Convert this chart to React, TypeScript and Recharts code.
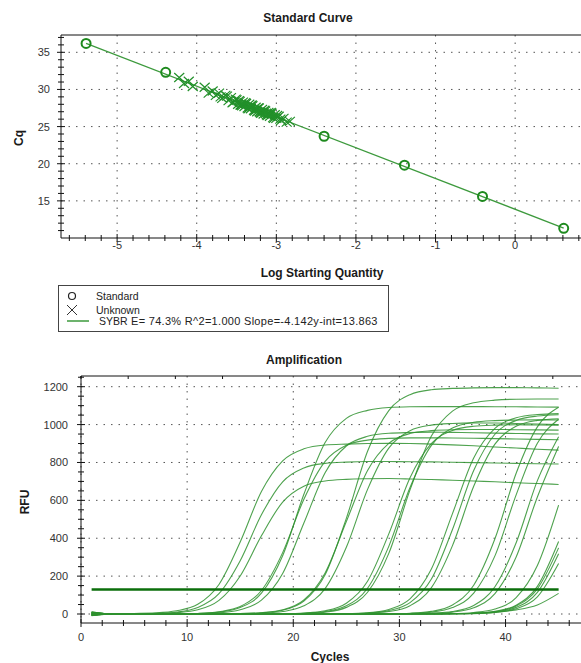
import { ScatterChart, Scatter, LineChart, Line, XAxis, YAxis, CartesianGrid, ReferenceLine, Label } from 'recharts'

const FONT = '"Liberation Sans", Arial, sans-serif'
const AXIS = '#111'
const GRID = '#555'

// ---- standard curve ----
const stdLog = [-5.39, -4.39, -2.4, -1.39, -0.41, 0.61]
const stdCq = [36.2, 32.3, 23.7, 19.8, 15.6, 11.3]
const unkLog = [-4.22, -4.16, -4.1, -4.05, -3.9, -3.85, -3.8, -3.76, -3.72, -3.68, -3.64, -3.6, -3.57, -3.54, -3.51, -3.48,
  -3.46, -3.44, -3.42, -3.4, -3.38, -3.36, -3.34, -3.32, -3.3, -3.28, -3.26, -3.24, -3.22, -3.2, -3.18, -3.16, -3.14, -3.12,
  -3.1, -3.08, -3.06, -3.04, -3.02, -3, -2.97, -2.94, -2.91, -2.87, -2.83,
  -3.62, -3.55, -3.5, -3.47, -3.43, -3.39, -3.35, -3.31, -3.27, -3.23, -3.19, -3.15, -3.11, -3.07, -3.03, -2.99,
  -3.45, -3.33, -3.21, -3.09, -2.95, -3.7, -3.25, -3.13]
const unkCq = [31.6, 30.8, 31.1, 30.4, 30.3, 29.5, 29.8, 29.2, 29.5, 28.8, 29.2, 28.5, 28.9, 28.3, 28.7, 28.0,
  28.4, 27.9, 28.3, 27.7, 28.1, 27.5, 28.0, 27.4, 27.8, 27.2, 27.6, 27.0, 27.5, 26.9, 27.3, 26.7, 27.1, 26.6,
  26.9, 26.4, 26.8, 26.2, 26.6, 26.1, 26.4, 25.8, 26.1, 25.6, 25.7,
  29.1, 28.2, 28.6, 28.5, 27.8, 28.2, 27.4, 27.9, 27.1, 27.5, 26.8, 27.2, 26.5, 26.9, 26.1, 26.5,
  27.9, 27.7, 27.0, 26.7, 26.0, 29.0, 27.3, 26.8]
const fitLog = [-5.39, 0.61]
const fitCq = [36.19, 11.34]
const logTicks = [-5, -4, -3, -2, -1, 0, 1]
const cqTicks = [15, 20, 25, 30, 35]

// ---- amplification ----
const cycles = [1, 3, 5, 7, 9, 11, 13, 15, 17, 19, 21, 23, 25, 27, 29, 31, 33, 35, 37, 39, 41, 43, 45]
const a1 = [8, 1, 3, 6, 17, 51, 156, 380, 647, 809, 872, 892, 897, 900, 901, 900, 897, 893, 888, 882, 876, 870, 865]
const a2 = [-6, 0, 1, 3, 10, 34, 107, 281, 524, 698, 771, 795, 802, 805, 805, 804, 803, 801, 799, 797, 795, 793, 792]
const a3 = [4, 0, 1, 2, 7, 22, 72, 201, 413, 591, 675, 702, 711, 714, 715, 713, 710, 706, 702, 698, 693, 689, 684]
const b1 = [10, 0, 0, 1, 1, 3, 10, 34, 110, 308, 632, 905, 1033, 1075, 1090, 1094, 1095, 1095, 1095, 1094, 1094, 1093, 1092]
const b2 = [-5, 0, 0, 1, 1, 3, 12, 39, 124, 324, 606, 806, 891, 918, 927, 930, 930, 929, 928, 926, 924, 922, 920]
const b3 = [6, 0, 0, 0, 1, 2, 6, 22, 73, 214, 480, 746, 887, 938, 954, 958, 960, 959, 957, 955, 953, 951, 950]
const c1 = [-8, 0, 0, 0, 0, 0, 1, 2, 6, 20, 68, 207, 505, 859, 1074, 1158, 1184, 1191, 1194, 1195, 1195, 1194, 1192]
const c2 = [3, 0, 0, 0, 0, 0, 1, 2, 7, 22, 74, 217, 488, 758, 901, 953, 968, 973, 974, 974, 973, 972, 971]
const c3 = [-4, 0, 0, 0, 0, 0, 0, 1, 4, 13, 43, 134, 352, 658, 876, 968, 997, 1006, 1009, 1008, 1006, 1003, 1000]
const d1 = [12, 0, 0, 0, 0, 0, 0, 0, 0, 1, 3, 10, 35, 115, 320, 655, 938, 1071, 1115, 1129, 1134, 1135, 1135]
const d2 = [-3, 0, 0, 0, 0, 0, 0, 0, 0, 1, 4, 13, 43, 136, 357, 668, 889, 982, 1012, 1021, 1024, 1025, 1024]
const d3 = [7, 0, 0, 0, 0, 0, 0, 0, 0, 1, 5, 17, 57, 173, 423, 719, 899, 969, 991, 997, 999, 998, 997]
const e1 = [-7, 0, 0, 0, 0, 0, 0, 0, 0, 0, 0, 1, 2, 7, 24, 80, 236, 530, 824, 980, 1036, 1053, 1058]
const e2 = [5, 0, 0, 0, 0, 0, 0, 0, 0, 0, 0, 0, 1, 5, 18, 60, 183, 446, 758, 949, 1022, 1045, 1052]
const e3 = [-2, 0, 0, 0, 0, 0, 0, 0, 0, 0, 0, 0, 1, 4, 13, 44, 138, 361, 674, 897, 991, 1022, 1031]
const f1 = [9, 0, 0, 0, 0, 0, 0, 0, 0, 0, 0, 0, 0, 0, 1, 4, 14, 48, 152, 397, 743, 988, 1092]
const f2 = [-5, 0, 0, 0, 0, 0, 0, 0, 0, 0, 0, 0, 0, 0, 1, 3, 10, 34, 110, 307, 629, 901, 1028]
const f3 = [4, 0, 0, 0, 0, 0, 0, 0, 0, 0, 0, 0, 0, 0, 0, 1, 4, 13, 45, 144, 376, 704, 936]
const f4 = [-9, 0, 0, 0, 0, 0, 0, 0, 0, 0, 0, 0, 0, 0, 0, 1, 3, 10, 33, 108, 301, 618, 885]
const g1 = [2, 0, 0, 0, 0, 0, 0, 0, 0, 0, 0, 0, 0, 0, 0, 0, 1, 2, 8, 26, 87, 256, 575]
const g2 = [-3, 0, 0, 0, 0, 0, 0, 0, 0, 0, 0, 0, 0, 0, 0, 0, 0, 1, 4, 14, 46, 146, 383]
const g3 = [6, 0, 0, 0, 0, 0, 0, 0, 0, 0, 0, 0, 0, 0, 0, 0, 0, 1, 4, 12, 42, 133, 349]
const g4 = [-6, 0, 0, 0, 0, 0, 0, 0, 0, 0, 0, 0, 0, 0, 0, 0, 0, 1, 3, 10, 35, 114, 318]
const g5 = [1, 0, 0, 0, 0, 0, 0, 0, 0, 0, 0, 0, 0, 0, 0, 0, 0, 1, 2, 8, 28, 91, 267]
const g6 = [-1, 0, 0, 0, 0, 0, 0, 0, 0, 0, 0, 0, 0, 0, 0, 0, 0, 2, 4, 10, 22, 48, 109]
const threshold = 130
const thresholdCycles = [1, 45]
const rfuTicks = [0, 200, 400, 600, 800, 1000, 1200]
const cycleTicks = [0, 10, 20, 30, 40]

const curves: Record<string, number[]> = { a1, a2, a3, b1, b2, b3, c1, c2, c3, d1, d2, d3, e1, e2, e3, f1, f2, f3, f4, g1, g2, g3, g4, g5, g6 }
const ampData = cycles.map((cycle, i) => {
  const row: Record<string, number> = { cycle }
  for (const k in curves) row[k] = curves[k][i]
  return row
})
const stdData = stdLog.map((x, i) => ({ x, y: stdCq[i] }))
const unkData = unkLog.map((x, i) => ({ x, y: unkCq[i] }))

const steps = (from: number, to: number, step: number) => {
  const out: number[] = []
  for (let v = from; v <= to + 1e-9; v += step) out.push(Math.round(v * 10) / 10)
  return out
}

const tickStyle = { fontFamily: FONT, fontSize: 11, fill: '#333' }
const titleStyle = { fontFamily: FONT, fontSize: 12, fontWeight: 700, fill: '#1a1a1a' }

const makeTick = (side: 'left' | 'bottom' | 'top', majors: number[], gap: number) => (p: any) => {
  const v = p.payload.value
  const major = majors.includes(v)
  const n = major ? 4 : 3
  if (side === 'top') return <line x1={p.x} x2={p.x} y1={p.y} y2={p.y + n} stroke={AXIS} />
  if (side === 'left') {
    return (
      <g>
        <line x1={p.x - n} x2={p.x + n} y1={p.y} y2={p.y} stroke={AXIS} />
        {major && <text x={p.x - gap} y={p.y} dy="0.36em" textAnchor="end" style={tickStyle}>{v}</text>}
      </g>
    )
  }
  return (
    <g>
      <line x1={p.x} x2={p.x} y1={p.y - n} y2={p.y + n} stroke={AXIS} />
      {major && <text x={p.x} y={p.y + gap} dy="0.36em" textAnchor="middle" style={tickStyle}>{v}</text>}
    </g>
  )
}

const Title = (x: number, y: number, text: string, vertical = false) => () => (
  <text x={x} y={y} textAnchor="middle" dominantBaseline="central"
    transform={vertical ? `rotate(-90 ${x} ${y})` : undefined} style={titleStyle}>{text}</text>
)

const Ring = (p: any) => <circle cx={p.cx} cy={p.cy} r={4.5} fill="none" stroke="#1e8a1e" strokeWidth={2} />
const Cross = (p: any) => (
  <path d={`M${p.cx - 5},${p.cy - 4.5}L${p.cx + 5},${p.cy + 4.5}M${p.cx - 5},${p.cy + 4.5}L${p.cx + 5},${p.cy - 4.5}`}
    stroke="#22902a" strokeWidth={1.2} fill="none" />
)

function Legend() {
  const t = { fontFamily: FONT, fontSize: 10.5, fill: '#222' }
  return (
    <div style={{ position: 'absolute', left: 58, top: 285, width: 329, height: 45, border: '1px solid #444', background: '#fff' }}>
      <svg width={329} height={45}>
        <circle cx={13} cy={10} r={3.5} fill="none" stroke="#222" strokeWidth={1.2} />
        <text x={37} y={10} dy="0.36em" style={t}>Standard</text>
        <path d="M8,19L18,29M8,29L18,19" stroke="#333" strokeWidth={1} />
        <text x={37} y={24} dy="0.36em" style={t}>Unknown</text>
        <line x1={8} x2={30} y1={35} y2={35} stroke="#3c9a3c" strokeWidth={1.5} />
        <text x={40} y={35} dy="0.36em" style={t}>SYBR</text>
        <text x={72} y={35} dy="0.36em" style={{ ...t, fontSize: 11, letterSpacing: 0.3 }}>E= 74.3% R^2=1.000 Slope=-4.142y-int=13.863</text>
      </svg>
    </div>
  )
}

export default function App() {
  const logDomain: [number, number] = [-5.705, 1.066]
  const cycleDomain: [number, number] = [0, 48.9]
  return (
    <div style={{ position: 'absolute', left: 0, top: 0, width: 581, height: 663, overflow: 'hidden', background: '#fff' }}>
      <div style={{ position: 'absolute', left: 0, top: 0 }}>
        <ScatterChart width={600} height={285} margin={{ top: 34, right: 0, bottom: 0, left: 0 }}>
          <CartesianGrid horizontalValues={cqTicks} verticalValues={logTicks} stroke={GRID} strokeDasharray="1.5 6" />
          <XAxis xAxisId="top" orientation="top" type="number" domain={logDomain} allowDataOverflow height={1}
            ticks={steps(-5.6, 1, 0.2)} interval={0} tickSize={0} tickMargin={0} tick={makeTick('top', [], 0)} stroke={AXIS}>
            <Label content={Title(308, 18, 'Standard Curve')} />
          </XAxis>
          <XAxis dataKey="x" type="number" domain={logDomain} allowDataOverflow height={47}
            ticks={steps(-5.6, 1, 0.2)} interval={0} tickSize={0} tickMargin={0} tick={makeTick('bottom', logTicks.slice(0, 6), 7)} stroke={AXIS}>
            <Label content={Title(322, 273, 'Log Starting Quantity')} />
          </XAxis>
          <YAxis dataKey="y" type="number" domain={[10, 37.33]} allowDataOverflow width={61}
            ticks={steps(11, 37, 1)} interval={0} tickSize={0} tickMargin={0} tick={makeTick('left', cqTicks, 11)} stroke={AXIS}>
            <Label content={Title(19, 138, 'Cq', true)} />
          </YAxis>
          <ReferenceLine segment={[{ x: fitLog[0], y: fitCq[0] }, { x: fitLog[1], y: fitCq[1] }]} stroke="#3d9a3d" strokeWidth={1.3} ifOverflow="visible" />
          <Scatter data={unkData} shape={Cross} isAnimationActive={false} />
          <Scatter data={stdData} shape={Ring} isAnimationActive={false} />
        </ScatterChart>
      </div>
      <Legend />
      <div style={{ position: 'absolute', left: 0, top: 340 }}>
        <LineChart width={600} height={323} data={ampData} margin={{ top: 35, right: 0, bottom: 0, left: 0 }}>
          <CartesianGrid horizontalValues={rfuTicks} verticalValues={cycleTicks} stroke={GRID} strokeDasharray="1.5 6" />
          <XAxis xAxisId="top" orientation="top" type="number" domain={cycleDomain} allowDataOverflow height={1}
            ticks={steps(0, 48, 2)} interval={0} tickSize={0} tickMargin={0} tick={makeTick('top', [], 0)} stroke={AXIS}>
            <Label content={Title(304, 20, 'Amplification')} />
          </XAxis>
          <XAxis dataKey="cycle" type="number" domain={cycleDomain} allowDataOverflow height={40}
            ticks={steps(0, 48, 2)} interval={0} tickSize={0} tickMargin={0} tick={makeTick('bottom', cycleTicks, 14)} stroke={AXIS}>
            <Label content={Title(330, 317, 'Cycles')} />
          </XAxis>
          <YAxis type="number" domain={[-47.5, 1256.5]} allowDataOverflow width={81}
            ticks={steps(0, 1250, 50)} interval={0} tickSize={0} tickMargin={0} tick={makeTick('left', rfuTicks, 13)} stroke={AXIS}>
            <Label content={Title(25, 162, 'RFU', true)} />
          </YAxis>
          {Object.keys(curves).map(k => (
            <Line key={k} dataKey={k} type="monotone" stroke="#2f922f" strokeOpacity={0.85} strokeWidth={1.1} dot={false} activeDot={false} isAnimationActive={false} />
          ))}
          <ReferenceLine segment={[{ x: thresholdCycles[0], y: threshold }, { x: thresholdCycles[1], y: threshold }]} stroke="#0b6e0b" strokeWidth={2.5} />
        </LineChart>
      </div>
    </div>
  )
}
